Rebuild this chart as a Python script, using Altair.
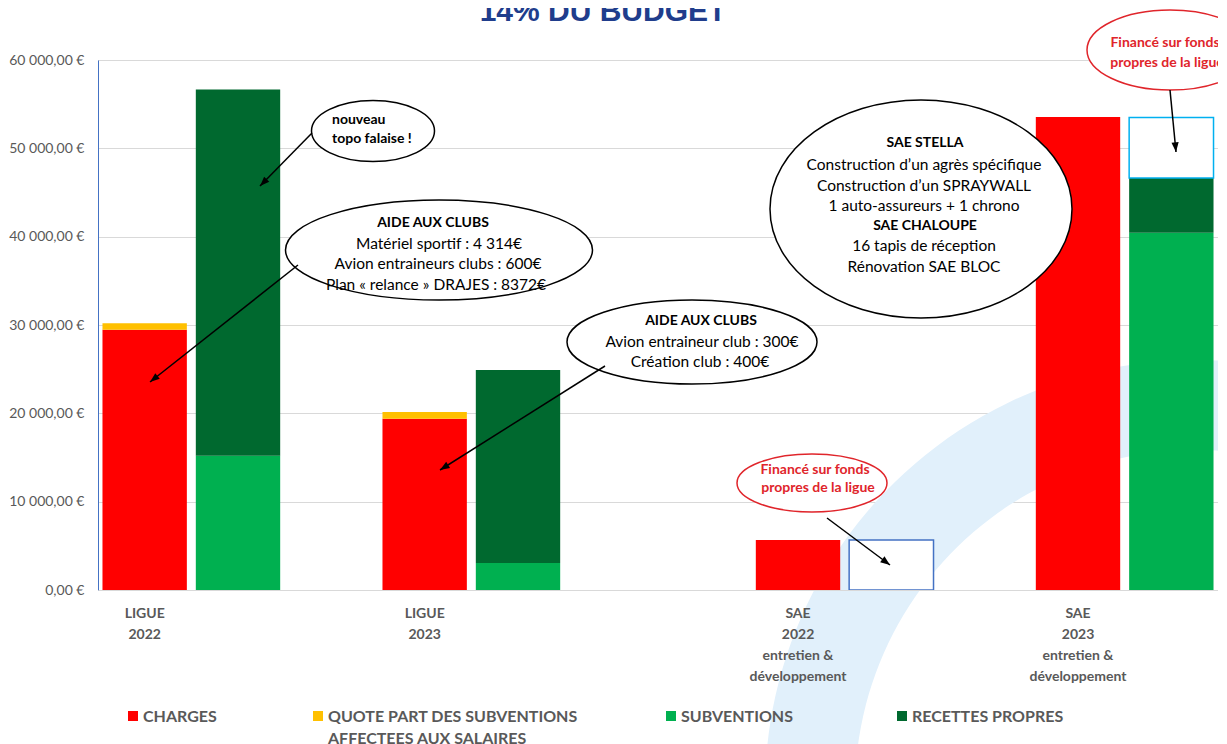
import json
import math
import altair as alt
import pandas as pd

# ---------------- data (Excel-like layout: 12 category slots, blanks separate the bars)
categories = ["LIGUE|2022", "", "", "LIGUE|2023", "", "", "",
              "SAE|2022|entretien &|développement", "", "",
              "SAE|2023|entretien &|développement", ""]
series = ["CHARGES", "QUOTE PART DES SUBVENTIONS|AFFECTEES AUX SALAIRES",
          "SUBVENTIONS", "RECETTES PROPRES"]
colors = ["#FF0000", "#FFC000", "#00B050", "#00692F"]

charges = [29450, 0, 0, 19400, 0, 0, 0, 5650, 0, 0, 53550, 0]
quote = [750, 0, 0, 750, 0, 0, 0, 0, 0, 0, 0, 0]
subventions = [0, 15200, 0, 0, 3050, 0, 0, 0, 0, 0, 0, 40450]
recettes = [0, 41450, 0, 0, 21850, 0, 0, 0, 0, 0, 0, 6200]
fonds_propres = [0, 0, 0, 0, 0, 0, 0, 0, 5650, 0, 0, 6850]

y_ticks = [0, 10000, 20000, 30000, 40000, 50000, 60000]

# ---------------- tables
rows = []
for s_i, (name, vals) in enumerate(zip(series, [charges, quote, subventions, recettes])):
    for slot, v in enumerate(vals):
        if v > 0:
            rows.append({"slot": slot, "series": name, "value": v, "order": s_i})
bars_df = pd.DataFrame(rows)

box_rows = []
for slot, v in enumerate(fonds_propres):
    if v > 0:
        base = subventions[slot] + recettes[slot]
        box_rows.append({"slot": slot, "y0": base, "y1": base + v})
box_df = pd.DataFrame(box_rows)

# ---------------- scales / axes
FONT = "Lato"
GREY = "#595959"
color_scale = alt.Scale(domain=series, range=colors)
x_scale = alt.Scale(domain=list(range(len(categories))), paddingInner=0.096, paddingOuter=0.048)
y_scale = alt.Scale(domain=[0, 60000], nice=False)

cat_js = json.dumps(categories, ensure_ascii=False)
x_axis = alt.Axis(title=None, labelExpr=f"split({cat_js}[datum.value], '|')", ticks=False,
                  domainColor="#D9D9D9", grid=False, labelAngle=0, labelFont=FONT,
                  labelFontWeight="bold", labelFontSize=14, labelColor=GREY, labelPadding=16,
                  labelLineHeight=21, labelLimit=300, zindex=1)
y_axis = alt.Axis(title=None, values=y_ticks,
                  labelExpr="replace(replace(format(datum.value, ',.2f'), ',', ' '), '.', ',') + ' €'",
                  ticks=False, grid=True, gridColor="#D9D9D9", domainColor="#4472C4",
                  labelFont=FONT, labelFontSize=14, labelColor=GREY, labelPadding=14)

stack = alt.Chart(bars_df).mark_bar().encode(
    x=alt.X("slot:O", scale=x_scale, axis=x_axis),
    y=alt.Y("value:Q", stack="zero", scale=y_scale, axis=y_axis),
    color=alt.Color("series:N", scale=color_scale, legend=None),
    order=alt.Order("order:Q"),
)
box = alt.Chart(box_df).mark_bar(fill="white", strokeWidth=1.5).encode(
    x=alt.X("slot:O", scale=x_scale, axis=x_axis),
    y=alt.Y("y0:Q", scale=y_scale, axis=y_axis),
    y2="y1:Q",
    stroke=alt.Stroke("slot:O", scale=alt.Scale(domain=[8, 11], range=["#4472C4", "#00B0F0"]), legend=None),
)
bars = alt.layer(stack, box)

# ---------------- annotations (pixel positions in the plot area)
OX, OY = 98, 60  # plot origin on the page

# legend, drawn below the axis
legend_x = [133, 318, 671, 902]
legend_df = pd.DataFrame({"series": series, "x": [v - OX for v in legend_x], "y": [716 - OY] * 4})
legend_df["tx"] = legend_df["x"] + 10
legend_sym = alt.Chart(legend_df).mark_point(filled=True, shape="square", size=100, opacity=1).encode(
    x=alt.X("x:Q", scale=None, axis=None), y=alt.Y("y:Q", scale=None, axis=None),
    color=alt.Color("series:N", scale=color_scale, legend=None))
legend_txt = alt.Chart(legend_df).mark_text(font=FONT, fontSize=16, fontWeight="bold", color=GREY,
                                            align="left", baseline="top", lineBreak="|",
                                            lineHeight=22, dy=-7).encode(
    x=alt.X("tx:Q", scale=None, axis=None), y=alt.Y("y:Q", scale=None, axis=None), text="series:N")


def ellipse_df(items):
    out = []
    for cx, cy, w, h in items:
        r = h / w
        out.append({"x": cx - OX, "y": cy - OY, "size": w * w,
                    "path": f"M -1 0 A 1 {r:.4f} 0 1 0 1 0 A 1 {r:.4f} 0 1 0 -1 0 Z"})
    return pd.DataFrame(out)


black_ell = ellipse_df([(373, 131, 123, 61), (439, 250, 307, 100), (692, 342, 250, 84), (921, 209, 302, 218)])
red_ell = ellipse_df([(1170, 50, 166, 80), (812, 483, 150, 58)])

arrows = [((312, 133), (260, 186)), ((298, 265), (150, 382)), ((605, 366), (440, 470)),
          ((1170, 90), (1176, 152)), ((827, 518), (890, 565))]
arrow_df = pd.DataFrame([{"x": a[0] - OX, "y": a[1] - OY, "x2": b[0] - OX, "y2": b[1] - OY,
                          "ang": (math.degrees(math.atan2(b[0] - a[0], -(b[1] - a[1]))) + 360) % 360}
                         for a, b in arrows])


def text_df(items):
    return pd.DataFrame([{"x": x - OX, "y": y - OY, "t": t} for x, y, t in items])


t_bold_left = text_df([(332, 120, "nouveau"), (332, 139, "topo falaise !")])
t_bold = text_df([(433, 223, "AIDE AUX CLUBS"), (701, 321, "AIDE AUX CLUBS"),
                  (925, 143, "SAE STELLA"), (925, 226, "SAE CHALOUPE")])
t_norm = text_df([(439, 244, "Matériel sportif : 4 314€"), (438, 264, "Avion entraineurs clubs : 600€"),
                  (436, 285, "Plan « relance » DRAJES : 8372€"),
                  (702, 342, "Avion entraineur club : 300€"), (700, 362, "Création club : 400€"),
                  (924, 165, "Construction d’un agrès spécifique"), (924, 186, "Construction d’un SPRAYWALL"),
                  (924, 206, "1 auto-assureurs + 1 chrono"), (924, 246, "16 tapis de réception"),
                  (924, 267, "Rénovation SAE BLOC")])
t_red = text_df([(1165, 43, "Financé sur fonds"), (1167, 63, "propres de la ligue"),
                 (815, 470, "Financé sur fonds"), (818, 488, "propres de la ligue")])
t_title = text_df([(603, 21, "14% DU BUDGET")])

PX = dict(x=alt.X("x:Q", scale=None, axis=None), y=alt.Y("y:Q", scale=None, axis=None))

# faint logo watermark behind the chart
watermark = alt.Chart(pd.DataFrame({"k": [0]})).mark_arc(
    radius=430, radius2=340, theta=4.55, theta2=6.6, color="#E1F0FB").encode(
    x=alt.value(1195 - OX), y=alt.value(790 - OY))

ell_black = alt.Chart(black_ell).mark_point(filled=True, fill="white", stroke="black", strokeWidth=1.5,
                                           opacity=1).encode(
    shape=alt.Shape("path:N", scale=None), size=alt.Size("size:Q", scale=None), **PX)
ell_red = alt.Chart(red_ell).mark_point(filled=True, fill="white", stroke="#E0252B", strokeWidth=1.5,
                                       opacity=1).encode(
    shape=alt.Shape("path:N", scale=None), size=alt.Size("size:Q", scale=None), **PX)

arrow_lines = alt.Chart(arrow_df).mark_rule(color="black", strokeWidth=1.5).encode(
    x2="x2:Q", y2="y2:Q", **PX)
arrow_px = {"x": alt.X("x2:Q", scale=None, axis=None), "y": alt.Y("y2:Q", scale=None, axis=None)}
arrow_heads = alt.Chart(arrow_df).mark_point(filled=True, color="black", opacity=1).encode(
    shape=alt.value("M 0 0 L 0.6 1.6 L -0.6 1.6 Z"), size=alt.value(144),
    angle=alt.Angle("ang:Q", scale=None), **arrow_px)

txt_bl = alt.Chart(t_bold_left).mark_text(font=FONT, fontSize=14, fontWeight="bold", align="left",
                                          baseline="middle", color="black").encode(text="t:N", **PX)
txt_b = alt.Chart(t_bold).mark_text(font=FONT, fontSize=14, fontWeight="bold", align="center",
                                    baseline="middle", color="black").encode(text="t:N", **PX)
txt_n = alt.Chart(t_norm).mark_text(font=FONT, fontSize=15.5, align="center",
                                    baseline="middle", color="black").encode(text="t:N", **PX)
txt_r = alt.Chart(t_red).mark_text(font=FONT, fontSize=14, fontWeight="bold", align="center",
                                   baseline="middle", color="#E0252B").encode(text="t:N", **PX)
title = alt.Chart(t_title).mark_text(font="Liberation Sans", fontSize=30, fontWeight="bold",
                                     align="center", baseline="alphabetic",
                                     color="#203D8C").encode(text="t:N", **PX)

chart = alt.layer(
    watermark, bars, legend_sym, legend_txt, ell_black, ell_red, arrow_lines, arrow_heads,
    txt_bl, txt_b, txt_n, txt_r, title
).resolve_scale(x="independent", y="independent").properties(
    width=1120, height=530,
    padding={"left": 90, "top": 52, "right": 0, "bottom": 154},
    autosize=alt.AutoSizeParams(type="none"),
).configure_view(stroke=None).configure(background="white")

chart.save("out.html", embed_options={"renderer": "svg", "actions": False})
